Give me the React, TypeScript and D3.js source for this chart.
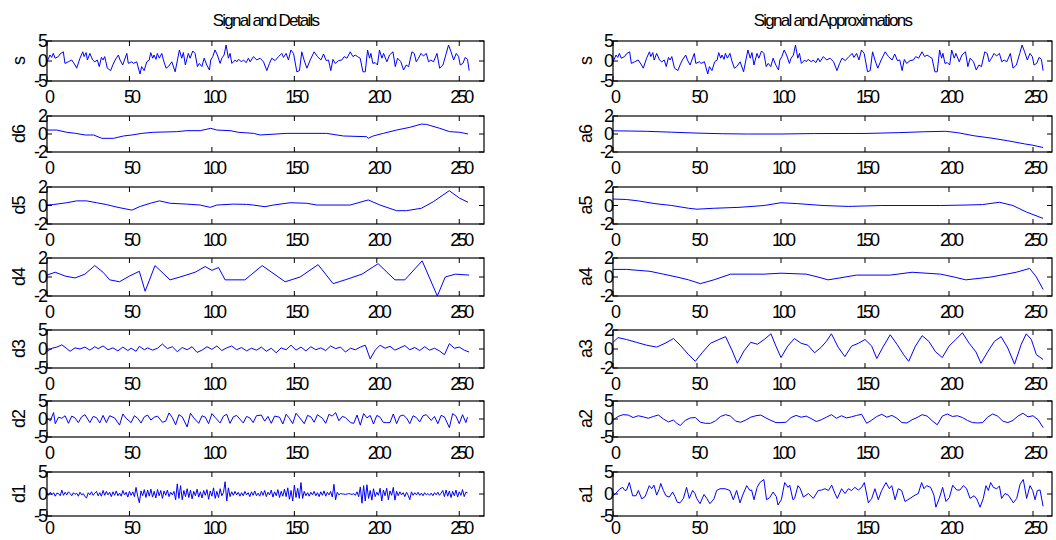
import React from "react";
import * as d3 from "d3";

type Pt = [number, number];

// ---------- data ----------
const xTicks = [0, 50, 100, 150, 200, 250];
const ticks5 = [-5, 0, 5];
const ticks2 = [-2, 0, 2];

const signalS: Pt[] = [[0,-0.2],[1.8,1.5],[2.8,0.9],[3.8,1.9],[4.9,0.7],[6.9,1.1],[7.9,1.75],[9.9,2.3],[10.9,-0.6],[12.9,-0.2],[15,0.25],[17,-1],[18,-1.8],[20,0.7],[21.7,2.3],[22.5,1.1],[23.7,2.1],[24.5,0.25],[26,1.9],[27.7,0.25],[29,-0.2],[30.5,0.25],[31.7,-1.4],[33,0.9],[34,0.25],[35,1.1],[36.6,-1.8],[38.6,-2.4],[39.9,-1],[41.3,0.25],[43.3,1.5],[44.3,0.25],[45.9,-1],[48.4,1.9],[49.3,-0.6],[51.4,-0.2],[52.4,-0.6],[54.4,-0.2],[56.4,-3.25],[57.4,-1.4],[58.9,-2.4],[60.5,-0.2],[62,0.25],[62.9,2.1],[64.1,0.7],[64.9,1.5],[66.1,0.4],[66.9,1.9],[68.1,0.7],[69.6,1.9],[70.6,0.25],[72.2,-1.8],[73.6,-1.4],[75.7,-0.2],[77.7,-2.7],[80.3,2.75],[81.7,0.7],[82.7,2.1],[83.9,-1],[85.7,1.9],[86.8,0.7],[88.4,2.5],[89.8,1.9],[91.2,-1.4],[92.4,-0.6],[93.9,-1.4],[95.3,0.7],[96.9,-1],[98.5,-2.25],[99.3,0.25],[100.5,1.1],[101.9,2.75],[103.3,1.5],[105,-0.6],[106,0.7],[107.4,1.5],[108.6,4],[110,0.7],[111,1.9],[112.1,-0.6],[114.1,0.25],[115.1,-0.2],[116.1,0.4],[118.1,-0.2],[119.1,0.25],[120.8,-0.4],[122.1,0.7],[123.2,-0.2],[125.2,1.1],[127.2,0.25],[129.2,0.7],[131.3,-0.2],[133.3,-2.4],[134.9,-0.6],[136.3,0.7],[138.3,0.1],[140.4,1.1],[142.4,1.9],[143.4,0.9],[145,1.9],[146.4,0.25],[147.9,2.75],[149.5,1.9],[151.5,-2.7],[153.1,-2.4],[154.5,2.3],[155.9,0.25],[157.6,-1.8],[159.6,0.25],[162,2.3],[164,1.1],[166.1,0.25],[167.7,1.75],[169.3,0.1],[170.7,0.25],[172.1,-2.4],[173.4,0.4],[174.8,-0.6],[176.8,0.1],[178.8,0.25],[180.2,1.1],[181.9,0.7],[183.9,2.3],[185.5,1.1],[186.9,1.5],[188.3,1.1],[189.9,0.7],[191.6,-2.7],[193,-2.7],[194.4,2.75],[195.6,0.7],[196.4,1.9],[197.6,-0.6],[199,-0.4],[200.4,-1],[201.6,2.75],[203.1,0.7],[204.1,1.9],[206.1,-0.2],[207.7,1.5],[209.8,2.3],[211.2,-1.4],[212.6,0.7],[214.6,-0.2],[216.2,-2.25],[217.8,-1],[219.3,-1.4],[221.3,2.3],[222.7,1.9],[223.9,-0.2],[225.3,0.7],[226.8,1.9],[228.3,1.25],[230,1.9],[231.4,-0.2],[232.8,0.25],[234.4,-0.2],[236.5,1.9],[238.1,-1.8],[240.1,-1],[242.1,1.9],[243.5,4],[245,2.3],[246.6,0.25],[248.2,1.9],[249.6,1.1],[250.6,-1],[252.2,-0.6],[253.6,0.9],[255,0.4],[256,-2.4]];

const detail6: Pt[] = [[0,0.44],[5.9,0.44],[12,0.19],[17.4,0.07],[23.1,-0.11],[28.2,-0.11],[33.3,-0.48],[40.4,-0.48],[46.4,-0.22],[51.5,-0.11],[57.5,0.07],[64.6,0.19],[78.7,0.26],[84.8,0.37],[92.9,0.37],[99.3,0.63],[103,0.44],[111,0.37],[116,0.19],[125.3,0.07],[129.2,-0.11],[145.4,0.07],[169.6,0.07],[179.7,-0.22],[193.8,-0.3],[194.8,-0.48],[197.8,-0.22],[203.9,0.07],[212,0.44],[220,0.74],[227,1.1],[230,1.07],[238.2,0.63],[244.2,0.26],[250.3,0.19],[255.3,0]];

const detail5: Pt[] = [[0,0.05],[3.8,0.1],[12,0.3],[18,0.5],[24,0.5],[30,0.3],[36,0.1],[43,-0.2],[51.5,-0.5],[56.5,-0.1],[62.6,0.24],[68.2,0.5],[74.7,0.24],[84.8,0.15],[92.9,0.05],[99,-0.2],[103,0.05],[113,0.15],[121,0.12],[125,0.05],[132.2,-0.13],[137.3,0.05],[147.4,0.3],[157.5,0.24],[163.6,0.05],[183.8,0.05],[194.8,0.6],[201.9,0.05],[212,-0.56],[218,-0.56],[227,-0.3],[234.2,0.4],[243.9,1.6],[250.3,0.78],[255.3,0.35]];

const detail4: Pt[] = [[0,0.2],[5,0.5],[11,0.1],[17,-0.1],[23,0.3],[29,1.2],[34,0.5],[38,-0.3],[44,-0.5],[50,0.1],[56,0.6],[59.5,-1.5],[65.5,1.2],[74.6,-0.3],[80.7,0],[89.8,0.5],[95.9,1.1],[100,0.7],[104,1.0],[108,-0.3],[120,-0.3],[130.5,1.2],[144.4,-0.5],[153.5,0],[164.4,1.3],[173.5,-0.7],[180.8,-0.3],[191,0.3],[200.8,1.4],[211,-0.3],[217,-0.3],[227.5,1.7],[236.7,-2.0],[241.5,0],[247.6,0.3],[256,0.2]];

const detail3: Pt[] = [[0,-0.6],[3,0.2],[6,0.5],[9,1.1],[12,0.1],[14,-0.6],[17,0.3],[20,0],[23,0.5],[26,-0.3],[29,0.6],[31,0.1],[34,0.8],[37,-0.2],[40,0.3],[43,-0.5],[46,0.5],[49,-0.4],[51,0.2],[54,-0.6],[56,0.7],[59,-0.2],[61,0.3],[64,-0.3],[67,0.2],[70,1.3],[73,0.1],[76,0.6],[79,-0.7],[82,0.4],[85,-0.2],[88,0.6],[91,-0.9],[94,-0.3],[97,0.6],[100,-0.1],[103,0.8],[106,-0.4],[109,0.3],[112,0.8],[115,-0.2],[118,0.4],[121,-0.5],[124,0.2],[127,-0.3],[130,0.5],[133,-0.6],[136,0.2],[139,-1.0],[142,0.3],[145,-0.2],[148,1.0],[151,-0.3],[154,0.5],[157,-0.5],[160,0.6],[163,-0.2],[166,0.3],[169,-0.4],[172,0.8],[175,0.1],[178,0.5],[181,-0.8],[184,0.2],[187,-0.2],[190,0.5],[193,1.0],[196,-2.6],[199,-0.3],[202,1.0],[205,0.2],[208,0.7],[211,-0.3],[214,0.3],[217,0.9],[220,-0.2],[223,0.4],[226,-0.4],[229,0.6],[232,-0.3],[235,0.2],[238,-0.5],[241,-1.5],[244,1.4],[247,0.2],[250,0.5],[253,-0.3],[256,-0.8]];

const detail2: Pt[] = [[0,0.2],[2,-0.5],[4,1.8],[5,-1.3],[7,0.5],[9,0.2],[11,0.9],[13,-1.2],[15,0.8],[17,0.3],[19,-1.0],[21,0.6],[23,1.2],[26,-1.0],[28,0.7],[30,0.4],[32,-1.1],[34,1.0],[36,-1.0],[38,0.9],[41,0.3],[44,-1.7],[46,1.4],[48,0.2],[51,-1.0],[53,0.9],[55,0.2],[57,-1.1],[59,0.6],[61,1.1],[63,-0.3],[65,0.5],[67,0.8],[70,-0.9],[72,-0.6],[74,1.7],[76,0.4],[78,-1.6],[80,1.2],[82,0.6],[85,-2.2],[87,1.6],[89,0.3],[92,-1.2],[94,0.9],[96,0.5],[98,-1.3],[100,1.5],[102,0.4],[105,-1.1],[107,0.8],[109,1.3],[111,-1.2],[113,0.6],[115,1.0],[119,-1.1],[121,0.7],[123,0.3],[125,-1.0],[127,0.9],[130,1.1],[132,-0.6],[134,0.7],[136,-1.2],[138,0.8],[141,0.5],[143,-1.4],[145,1.3],[147,0.2],[149,-1.3],[151,1.6],[153,0.5],[156,-1.3],[158,1.0],[160,0.6],[162,-0.9],[164,1.2],[167,0.2],[169,-1.2],[171,1.3],[173,0.8],[175,1.8],[177,-0.5],[179,0.7],[181,0.4],[184,-1.0],[186,-1.2],[188,1.1],[190,-1.7],[192,1.5],[194,0.3],[196,1.0],[198,-1.4],[200,1.0],[202,0.5],[204,-1.0],[206,-1.0],[208,-1.0],[210,1.4],[212,-1.3],[214,0.8],[216,1.1],[218,0.3],[220,-1.3],[222,0.9],[224,0.4],[226,-0.8],[228,0.9],[230,1.2],[233,-0.4],[235,0.7],[237,-1.3],[239,1.0],[241,0.6],[244,-2.4],[246,1.5],[248,0.8],[250,-1.3],[252,1.2],[254,-1.0],[255,0.5]];

const detail1: number[] = [
  0.2,-0.3,0.4,-0.2,0.3,-0.5,0.2,0.1,-0.4,0.9,
  -0.3,0.4,-0.2,0.5,0.1,-0.4,0.3,-0.1,0.2,-0.5,
  0.4,-0.2,0.1,-0.6,-0.9,0.3,-0.2,0.5,-0.3,0.2,
  0.6,-0.4,0.3,-0.5,0.8,-0.3,0.6,-0.2,0.4,-0.6,
  0.5,-0.3,0.7,-0.4,0.2,-0.5,0.8,-0.2,0.4,-0.7,
  0.6,-0.3,0.5,-0.6,1.5,-0.5,-2.0,0.7,-0.4,1.0,
  -0.8,0.9,-0.5,1.1,-0.7,0.6,-0.9,1.0,-0.4,0.8,
  -1.0,0.7,-0.3,0.9,-0.6,0.4,-0.2,0.6,-1.3,2.3,
  -1.0,1.9,-1.3,0.8,-0.6,1.2,-0.8,0.9,-1.1,0.6,
  -0.4,1.1,-0.7,0.5,-0.9,0.8,-0.3,1.0,-1.2,0.7,
  -0.5,1.4,-1.0,0.6,-0.8,1.2,-0.4,0.3,2.8,-1.6,
  1.4,-0.6,0.5,-0.3,0.6,-0.2,0.4,-0.5,0.3,-0.4,
  0.6,-0.2,0.3,-0.6,0.5,-0.3,0.7,-0.4,0.2,-0.5,
  0.6,-0.3,0.8,-0.6,0.4,-0.2,0.9,-0.7,0.5,-0.4,
  1.0,-0.8,0.6,-0.5,1.1,-0.6,1.4,-1.2,0.8,-1.6,
  2.0,-0.8,1.3,-1.0,2.6,-1.0,0.6,-0.4,0.3,-0.5,
  0.4,-0.2,0.6,-0.4,0.3,-0.6,0.5,-0.3,0.7,-0.5,
  0.4,-0.2,0.6,-0.7,2.2,-1.3,0.4,-0.2,0.1,0.0,
  0.0,-0.1,0.0,0.1,0.0,-0.1,0.1,-0.3,0.5,-0.6,
  1.6,-2.1,1.9,-1.6,2.1,-1.0,0.8,-1.4,1.2,-0.6,
  0.4,-0.3,1.3,-1.6,0.9,-0.4,1.3,-1.3,0.7,-0.3,
  1.5,-1.4,0.6,-0.4,0.5,-0.2,0.3,-0.6,0.4,-0.3,
  -1.3,0.5,-0.3,0.3,-0.2,0.4,-0.3,0.2,-0.4,0.3,
  -0.2,0.1,-0.3,0.2,-0.4,0.3,-0.2,0.4,-0.3,0.2,
  0.8,-0.6,0.9,-0.5,0.7,-0.8,0.6,-0.4,0.9,-0.7,
  0.5,-0.3,1.0,-0.6,0.4,0.3
];

const approx6: Pt[] = [[0,0.35],[10,0.33],[20,0.3],[35,0.2],[50,0.1],[65,0.03],[80,0],[100,0],[120,0.05],[150,0.06],[170,0.15],[185,0.25],[198,0.3],[205,0.15],[215,-0.2],[225,-0.45],[235,-0.75],[245,-1.1],[250,-1.25],[256,-1.5]];

const approx5: Pt[] = [[0,0.7],[8,0.65],[15,0.5],[25,0.2],[35,0],[45,-0.3],[50,-0.4],[60,-0.3],[75,-0.2],[90,0],[100,0.3],[110,0.2],[125,0],[140,-0.1],[160,0],[195,0],[210,0.05],[220,0.1],[230,0.35],[238,0],[246,-0.7],[256,-1.4]];

const approx4: Pt[] = [[0,0.8],[8,0.8],[15,0.7],[22,0.6],[30,0.3],[38,0],[45,-0.3],[52,-0.7],[60,-0.3],[70,0.3],[90,0.3],[100,0.4],[115,0.3],[122,0],[128,-0.3],[135,-0.1],[145,0.2],[165,0.2],[178,0.5],[195,0.3],[203,0],[210,-0.3],[225,0],[240,0.5],[248,0.9],[252,0],[256,-1.3]];

const approx3: Pt[] = [[0,0.7],[3,1.2],[8,1.0],[14,0.7],[20,0.4],[26,0.2],[31,0.6],[36,1.1],[40,0.4],[45,-0.6],[49,-1.3],[53,-0.4],[58,0.6],[63,1.0],[67,1.3],[71,-0.2],[74,-1.5],[78,-0.2],[82,0.7],[86,0.5],[90,1.0],[94,1.6],[97,0.3],[100,-0.9],[104,0.3],[108,1.1],[112,0.6],[116,0.4],[120,-0.4],[124,0.2],[127,0.8],[130,1.6],[134,0.2],[138,-0.8],[142,0.3],[146,0.6],[150,1.0],[154,0.3],[157,-1.0],[161,0.3],[165,1.5],[169,0.5],[173,-0.6],[176,-1.3],[180,0.3],[184,1.4],[188,0.8],[192,-0.3],[196,-0.9],[200,0.3],[204,1.0],[208,1.7],[212,0.6],[216,-0.3],[219,-1.5],[223,-0.3],[227,0.8],[231,1.3],[235,0.1],[239,-1.6],[243,0.5],[246,1.6],[249,1.0],[252,-0.6],[256,-1.1]];

const approx2: Pt[] = [[0,-0.3],[3,0.7],[6,1.2],[9,1.1],[12,0.4],[15,0.9],[18,0.6],[21,0.2],[24,0.7],[27,1.1],[30,0],[33,-0.8],[36,-0.3],[38,-1.2],[40,-1.8],[43,-0.4],[46,0.3],[49,0.4],[52,-0.9],[55,-1.2],[58,-1.2],[61,-0.5],[64,0.7],[67,1.2],[70,0.8],[73,-0.6],[76,-0.9],[79,-0.3],[82,0.5],[85,0.9],[88,1.1],[91,0.3],[94,-0.4],[97,-1.0],[100,-1.0],[103,-0.9],[106,0.4],[109,1.0],[112,0.5],[115,0.8],[118,0.1],[121,-0.7],[124,-0.2],[127,0.5],[130,1.2],[133,0.2],[136,0.9],[139,0.3],[142,0.6],[145,1.0],[148,1.3],[151,-1.2],[154,-0.3],[157,0.7],[160,1.3],[163,0.5],[166,1.0],[169,0.2],[172,-1.0],[175,-1.1],[178,-0.2],[181,0.4],[184,1.2],[187,0.8],[190,-0.5],[193,-1.6],[196,0.8],[199,1.4],[202,0.7],[205,0.9],[208,0.4],[211,-0.4],[214,-1.0],[217,-1.1],[220,-1.0],[223,0.5],[226,1.4],[229,0.8],[232,-0.6],[235,-1.0],[238,-0.4],[241,0.8],[244,1.6],[247,0.6],[250,0.9],[253,-0.2],[256,-2.4]];

const approx1: Pt[] = [[0.2,-0.4],[1.5,0.1],[4.2,1.2],[5.8,1.5],[7.1,0.8],[8.1,0.9],[9.7,2.6],[11.7,-0.4],[13.7,-0.4],[15.1,0.8],[17.1,-1.1],[19.1,-0.6],[21.6,1.9],[23,1.2],[24.4,2],[26,-0.25],[27.6,1.2],[28.4,2.4],[30,0.8],[31.5,-0.4],[33.5,-0.7],[35.5,0.45],[36.9,-0.6],[38.3,-1.9],[39.9,-2],[41.9,-1],[43.8,1.5],[45.4,-1],[47.4,0.8],[48.8,0.1],[49.8,-1],[51.8,-2.2],[54.2,-0.1],[55.8,-1],[57.7,-2.2],[60.1,-1.1],[61.7,0.8],[63.7,1.2],[66.7,1.2],[69.6,0.8],[71.6,-1.3],[73.6,0.8],[75.6,-2],[77.2,-0.25],[79.6,1.9],[81.5,0.8],[82.5,0.9],[83.9,-1.3],[85.8,1.5],[87.4,2.6],[89.8,3.3],[91.4,-1.3],[93.3,-0.8],[95.3,0.45],[97.2,-0.6],[98.2,-2.5],[100.2,-1.3],[102.2,2.6],[104.2,1.5],[105.2,2],[107.1,-1.3],[108.1,-1],[110.1,1.9],[111.5,1.2],[113.3,-0.7],[116.3,0.1],[119.2,-1],[122.2,0.8],[124.2,0.9],[126.2,1.2],[128.2,0.8],[130.2,2],[132.1,0.1],[133.5,-1],[136.1,1.2],[138.1,0.1],[140.1,1.2],[142,0.8],[144,1.5],[146,0.9],[148,1.5],[149.6,2.6],[152,-2],[154,-1],[155.9,1.2],[157.9,-1.3],[159.9,0.8],[162.5,2.6],[164.5,1.2],[165.9,1.9],[167.9,-1.3],[169.8,1.2],[171.8,0.8],[173.8,-1.7],[176.8,-1],[179.8,-0.25],[181.7,0.1],[183.7,2.6],[185.1,1.2],[186.7,1.9],[189.1,1.5],[191,-0.25],[192.2,-3],[194.2,-1],[196.2,1.5],[198.2,-1.7],[200.2,-0.8],[202.2,2],[204.6,0.9],[206.5,0.9],[208.5,1.9],[210.5,1.2],[212.5,-1],[214.9,-0.4],[216.5,-1.1],[218.5,-3],[220.4,-1],[222,1.9],[223.4,0.8],[224.8,2.6],[226.4,1.5],[228.4,1.2],[230,1.8],[231.3,-1],[233.3,0.1],[235.3,-0.25],[238.3,-2],[240.3,-1],[242.3,2.2],[244.2,3.3],[246.2,-1],[248.2,1.9],[249.8,0.8],[251.2,-1.3],[252.6,0.8],[254.2,0.9],[256,-2.8]];

const leftTitle = "Signal and Details";
const rightTitle = "Signal and Approximations";
const leftLabels = ["s", "d6", "d5", "d4", "d3", "d2", "d1"];
const rightLabels = ["s", "a6", "a5", "a4", "a3", "a2", "a1"];

// ---------- layout ----------
const ROWS: [number, number][] = [
  [41, 81], [116, 152], [187, 224], [258, 296], [330, 368], [401, 437], [472, 516],
];
const COLS = [
  { x0: 47, x1: 484, xmax: 265, labelX: 19, title: leftTitle, labels: leftLabels },
  { x0: 613, x1: 1052, xmax: 261.3, labelX: 586, title: rightTitle, labels: rightLabels },
];

const toPts = (v: number[]): Pt[] => v.map((y, i) => [i, y] as Pt);

const leftSeries: Pt[][] = [signalS, detail6, detail5, detail4, detail3, detail2, toPts(detail1)];
const rightSeries: Pt[][] = [signalS, approx6, approx5, approx4, approx3, approx2, approx1];
const leftYTicks = [ticks5, ticks2, ticks2, ticks2, ticks5, ticks5, ticks5];
const rightYTicks = [ticks5, ticks2, ticks2, ticks2, ticks2, ticks5, ticks5];

const FONT = "'Liberation Sans', Arial, Helvetica, sans-serif";

function Panel({ col, row, data, yt, label }: any) {
  const [top, bottom] = ROWS[row];
  const x = d3.scaleLinear().domain([0, col.xmax]).range([col.x0, col.x1]);
  const lim = yt[yt.length - 1];
  const y = d3.scaleLinear().domain([-lim, lim]).range([bottom, top]);
  const line = d3.line<Pt>().x((d) => x(d[0])).y((d) => y(d[1]));
  const tl = 5;
  const labelY = row === ROWS.length - 1 ? 534 : bottom + 22;
  return (
    <g>
      <path d={line(data) || ""} fill="none" stroke="#0000ff" strokeWidth={1} strokeLinejoin="round" />
      <rect x={col.x0} y={top} width={col.x1 - col.x0} height={bottom - top} fill="none" stroke="#000" strokeWidth={1.2} />
      {xTicks.map((t) => (
        <g key={"x" + t}>
          <line x1={x(t)} x2={x(t)} y1={bottom} y2={bottom - tl} stroke="#000" />
          <line x1={x(t)} x2={x(t)} y1={top} y2={top + tl} stroke="#000" />
          <text x={x(t) + 1.5} y={labelY} textAnchor="middle" fontSize={18} letterSpacing={-3} fontFamily={FONT} fill="#000">
            {t}
          </text>
        </g>
      ))}
      {yt.map((t: number) => (
        <g key={"y" + t}>
          <line x1={col.x0} x2={col.x0 + tl} y1={y(t)} y2={y(t)} stroke="#000" />
          <line x1={col.x1} x2={col.x1 - tl} y1={y(t)} y2={y(t)} stroke="#000" />
          <text x={col.x0 - 1} y={y(t)} dy="0.36em" textAnchor="end" fontSize={18} letterSpacing={-2} fontFamily={FONT} fill="#000">
            {t}
          </text>
        </g>
      ))}
      <text
        transform={`translate(${col.labelX},${(top + bottom) / 2}) rotate(-90)`}
        textAnchor="middle"
        dy="0.35em"
        fontSize={18}
        letterSpacing={-1}
        fontFamily={FONT}
        fill="#000"
      >
        {label}
      </text>
    </g>
  );
}

export default function App() {
  return (
    <svg
      width={1056}
      height={540}
      style={{ position: "absolute", left: 0, top: 0, background: "#fff" }}
    >
      <rect width={1056} height={540} fill="#fff" />
      {COLS.map((col, ci) => (
        <g key={ci}>
          <text x={(col.x0 + col.x1) / 2} y={26} textAnchor="middle" fontSize={17} letterSpacing={-1.75} fontFamily={FONT} fill="#000">
            {col.title}
          </text>
          {ROWS.map((_, ri) => (
            <Panel
              key={ri}
              col={col}
              row={ri}
              data={ci === 0 ? leftSeries[ri] : rightSeries[ri]}
              yt={ci === 0 ? leftYTicks[ri] : rightYTicks[ri]}
              label={col.labels[ri]}
            />
          ))}
        </g>
      ))}
    </svg>
  );
}
